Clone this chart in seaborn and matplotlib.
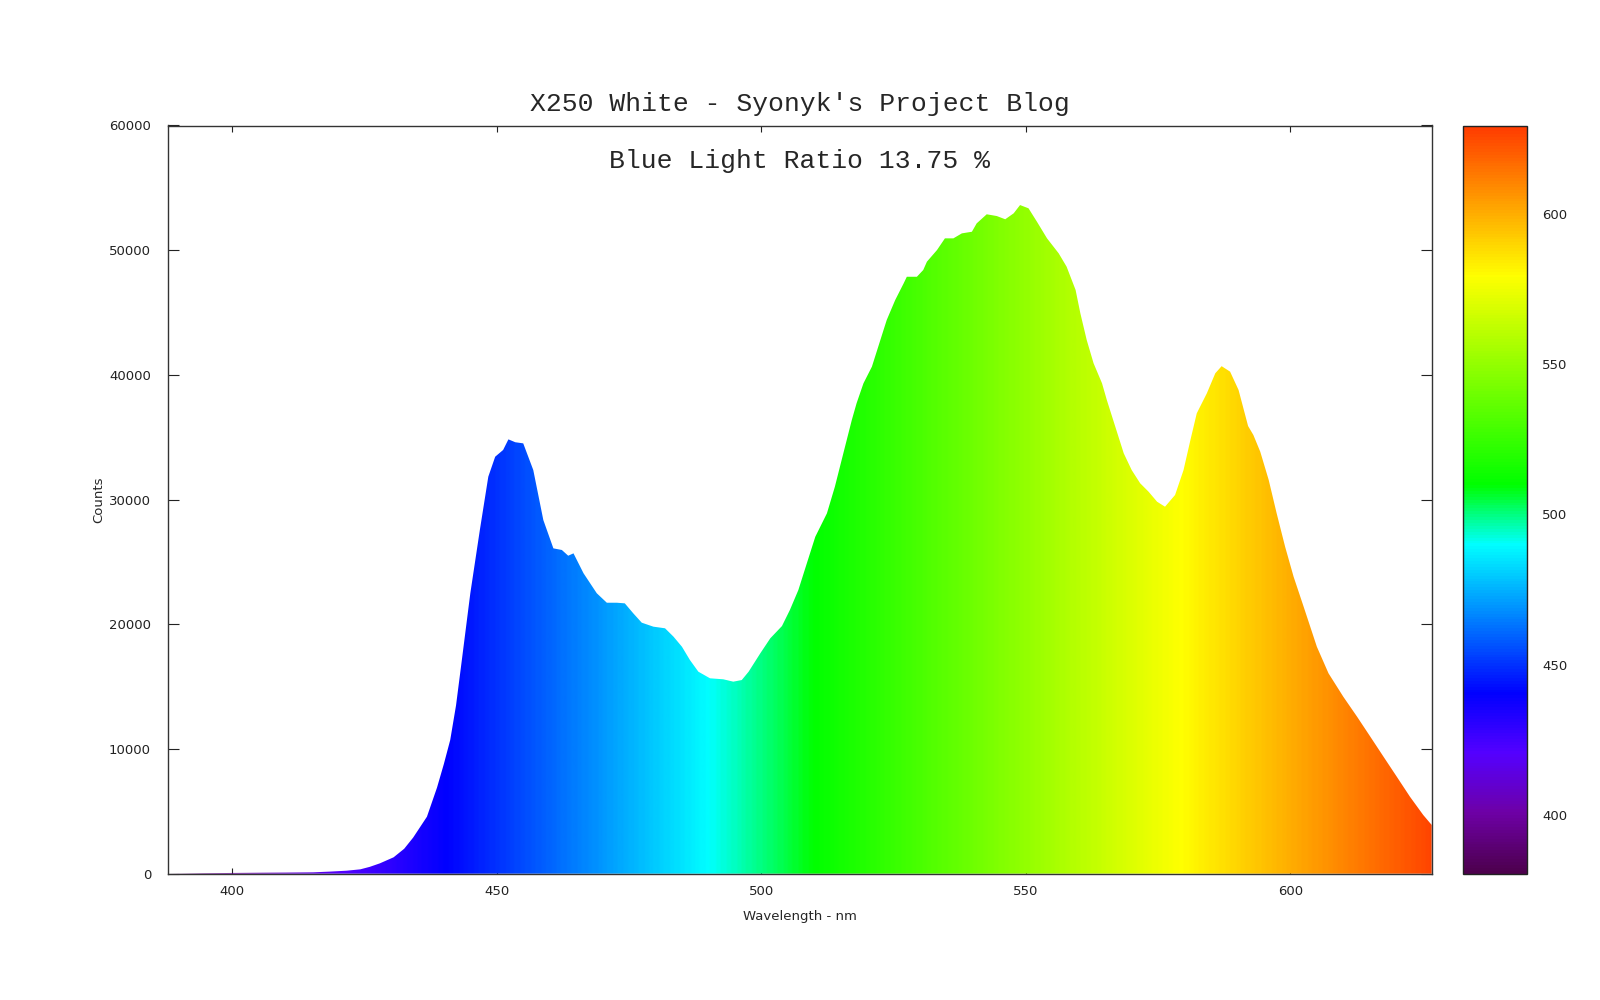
import numpy as np
import matplotlib
matplotlib.use("Agg")
import matplotlib.pyplot as plt
import seaborn as sns
from matplotlib.colors import LinearSegmentedColormap, Normalize
from matplotlib.cm import ScalarMappable

# spectrum (nm, counts)
wavelength = [388.0, 394.5, 400.0, 406.0, 410.0, 415.3, 418.5, 421.6, 424.2, 426.0,
              427.9, 430.5, 432.5, 434.2, 436.8, 438.7, 440.0, 441.2, 442.3, 443.4,
              445.0, 446.8, 448.4, 449.7, 451.2, 452.2, 453.5, 455.0, 456.9, 458.8,
              460.7, 462.3, 463.5, 464.5, 466.4, 468.9, 470.8, 472.7, 474.2, 475.8,
              477.4, 479.6, 481.8, 483.4, 485.0, 486.5, 488.1, 490.3, 492.8, 494.7,
              496.3, 497.6, 499.8, 501.7, 503.9, 505.4, 507.0, 508.6, 510.2, 512.4,
              513.9, 515.5, 517.1, 518.0, 519.3, 520.9, 522.5, 523.7, 525.3, 526.9,
              527.5, 529.4, 530.6, 531.3, 533.2, 534.7, 536.3, 537.9, 539.8, 540.7,
              542.6, 544.5, 546.1, 547.7, 548.9, 550.5, 552.1, 554.0, 556.2, 557.7,
              559.4, 560.3, 561.5, 562.8, 564.4, 565.3, 566.9, 568.5, 570.0, 571.6,
              573.2, 574.8, 576.3, 578.2, 579.8, 581.1, 582.3, 584.2, 585.8, 587.0,
              588.6, 590.2, 592.0, 593.0, 594.3, 595.9, 597.4, 599.0, 600.6, 602.5,
              605.0, 607.2, 610.0, 612.6, 615.1, 617.6, 620.1, 622.6, 625.1, 626.7]
counts = [0, 40, 60, 80, 90, 110, 170, 240, 350, 550,
          830, 1315, 2000, 2900, 4570, 6900, 8800, 10720, 13500, 17140,
          22490, 27560, 31840, 33440, 33980, 34830, 34600, 34510, 32370, 28360,
          26090, 25960, 25500, 25690, 24090, 22490, 21730, 21730, 21680, 20880,
          20130, 19810, 19680, 19010, 18200, 17140, 16200, 15670, 15590, 15400,
          15530, 16200, 17670, 18880, 19860, 21150, 22750, 24890, 27020, 28900,
          31030, 33710, 36380, 37720, 39320, 40660, 42800, 44400, 46000, 47340,
          47870, 47870, 48410, 49080, 50010, 50950, 50950, 51350, 51480, 52150,
          52880, 52740, 52480, 52960, 53620, 53360, 52280, 50950, 49750, 48680,
          46810, 44940, 42800, 40930, 39320, 37990, 35850, 33710, 32370, 31310,
          30630, 29830, 29430, 30370, 32370, 34780, 36920, 38520, 40130, 40700,
          40260, 38790, 35900, 35180, 33840, 31570, 28900, 26220, 23820, 21410,
          18200, 16070, 14190, 12590, 10990, 9380, 7780, 6170, 4710, 3910]

title = "X250 White - Syonyk's Project Blog"
note = "Blue Light Ratio 13.75 %"
x_ticks = [400, 450, 500, 550, 600]
y_ticks = [0, 10000, 20000, 30000, 40000, 50000, 60000]
cb_ticks = [400, 450, 500, 550, 600]

# wavelength -> colour palette (anchors in nm)
wl_lo, wl_hi = 380.3, 629.6
anchors = [(380, (0.3, 0.0, 0.3)), (400, (0.43, 0.0, 0.65)), (420, (0.33, 0.0, 1.0)),
           (440, (0.0, 0.0, 1.0)), (490, (0.0, 1.0, 1.0)), (510, (0.0, 1.0, 0.0)),
           (580, (1.0, 1.0, 0.0)), (630, (1.0, 0.23, 0.0))]
spec_cmap = LinearSegmentedColormap.from_list(
    "spectrum", [((w - 380) / 250, c) for w, c in anchors])
norm = Normalize(vmin=wl_lo, vmax=wl_hi)

sns.set_style("ticks")
plt.rcParams["font.family"] = ["DejaVu Sans"]
plt.rcParams["font.size"] = 9.5

fig = plt.figure(figsize=(16, 10), dpi=100)
ax = fig.add_axes([0.1048, 0.1263, 0.79, 0.7482])
cax = fig.add_axes([0.9146, 0.1263, 0.0396, 0.7482])

x0, x1 = wavelength[0], wavelength[-1]
ymax = max(counts)
poly = ax.fill_between(wavelength, 0, counts, color="none", lw=0)
grad = np.array([np.linspace(x0, x1, 600)])
img = ax.imshow(grad, cmap=spec_cmap, norm=norm, aspect="auto",
                extent=[x0, x1, 0, ymax + 500], origin="lower",
                interpolation="bilinear", zorder=2)
img.set_clip_path(poly.get_paths()[0], transform=ax.transData)

ax.set_xlim(387.8, 626.7)
ax.set_ylim(0, 60000)
ax.set_xticks(x_ticks)
ax.set_yticks(y_ticks)
ax.tick_params(axis="x", direction="in", length=4.5, width=0.8, top=True,
               bottom=True, pad=8, labelsize=9.5, colors="#222222")
ax.tick_params(axis="y", direction="in", length=8, width=0.8, left=True,
               right=True, pad=12, labelsize=9.5, colors="#222222")
for s in ax.spines.values():
    s.set_color("#333333")
    s.set_linewidth(1.0)
    s.set_zorder(5)
ax.set_xlabel("Wavelength - nm", fontsize=9.5, labelpad=9)
ax.set_ylabel("Counts", fontsize=9.5, labelpad=3)
ax.text(0.5, 0.953, note, transform=ax.transAxes, ha="center", va="center",
        fontsize=19, family=["Liberation Mono", "DejaVu Sans Mono"])
fig.text(0.5, 0.896, title, ha="center", va="center", fontsize=19,
         family=["Liberation Mono", "DejaVu Sans Mono"])

cb = fig.colorbar(ScalarMappable(norm=norm, cmap=spec_cmap), cax=cax)
cb.set_ticks(cb_ticks)
cb.outline.set_edgecolor("#222222")
cb.outline.set_linewidth(1.0)
cax.tick_params(direction="in", left=True, right=True, length=7, width=0.8,
                labelsize=9.5, pad=11, colors="#222222")

fig.savefig("out.png", dpi=100, facecolor="white")
